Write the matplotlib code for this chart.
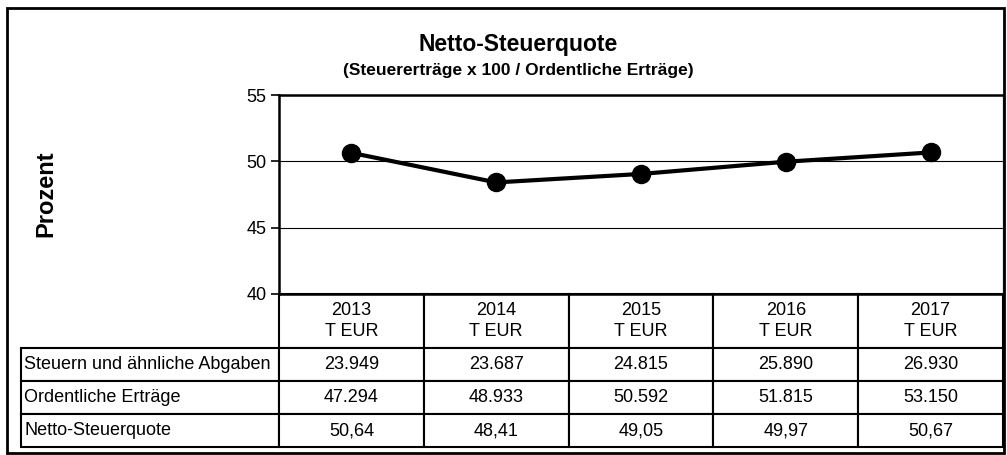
import numpy as np
import matplotlib.pyplot as plt
from matplotlib.patches import Rectangle

# Daten
jahre = ['2013', '2014', '2015', '2016', '2017']
steuerquote = [50.64, 48.41, 49.05, 49.97, 50.67]
zeilen = ['Steuern und ähnliche Abgaben', 'Ordentliche Erträge', 'Netto-Steuerquote']
steuern = ['23.949', '23.687', '24.815', '25.890', '26.930']
ertraege = ['47.294', '48.933', '50.592', '51.815', '53.150']
quote_text = ['50,64', '48,41', '49,05', '49,97', '50,67']
y_ticks = [40, 45, 50, 55]

plt.rcParams['font.family'] = ['Liberation Sans', 'DejaVu Sans']

W, H = 1007, 455
fig = plt.figure(figsize=(W / 100, H / 100), dpi=100)

# Plotbereich (Pixel -> Figure-Koordinaten)
links, rechts, oben, unten = 279, 1003, 95, 294
ax = fig.add_axes([links / W, 1 - unten / H, (rechts - links) / W, (unten - oben) / H])

x = np.arange(len(jahre))
ax.plot(x, steuerquote, color='black', lw=3, marker='o', ms=13, zorder=3, clip_on=False)

ax.set_xlim(-0.5, len(jahre) - 0.5)
ax.set_ylim(y_ticks[0], y_ticks[-1])
ax.set_yticks(y_ticks)
ax.set_xticks([])
ax.yaxis.grid(True, color='black', lw=0.8)
ax.set_axisbelow(True)
ax.tick_params(axis='y', direction='out', length=6, width=1.2, labelsize=13, pad=3)

for s in ['left', 'top', 'bottom']:
    ax.spines[s].set_linewidth(1.8)
ax.spines['right'].set_color('#808080')
ax.spines['right'].set_linewidth(1.0)

# Datentabelle unter dem Diagramm
zellen = [[''] + [j + '\nT EUR' for j in jahre]]
for name, werte in zip(zeilen, [steuern, ertraege, quote_text]):
    zellen.append([name] + werte)

tab_links, tab_unten = 21, 447
breite_ax = rechts - links
hoehe_ax = unten - oben
spalte = breite_ax / len(jahre)
tab = ax.table(cellText=zellen, cellLoc='center',
               colWidths=[links - tab_links] + [spalte] * len(jahre),
               bbox=[(tab_links - links) / breite_ax, (unten - tab_unten) / hoehe_ax,
                     (rechts - tab_links) / breite_ax, (tab_unten - unten) / hoehe_ax])
tab.auto_set_font_size(False)
tab.set_fontsize(13)
for (r, c), cell in tab.get_celld().items():
    cell.set_linewidth(1.5)
    cell.set_height(54 if r == 0 else 33)
    cell.get_text().set_linespacing(1.35)
    if c == 0:
        cell.get_text().set_ha('left')
        cell.PAD = 0.012
tab[0, 0].visible_edges = ''

# Titel und Achsenbeschriftung
fig.text(518 / W, 1 - 45 / H, 'Netto-Steuerquote', ha='center', va='center',
         fontsize=16.5, fontweight='bold')
fig.text(518 / W, 1 - 71 / H, '(Steuererträge x 100 / Ordentliche Erträge)', ha='center',
         va='center', fontsize=12.5, fontweight='bold')
fig.text(46 / W, 1 - 194 / H, 'Prozent', rotation=90, ha='center', va='center',
         fontsize=17, fontweight='bold')

# Rahmen
fig.patches.append(Rectangle((7 / W, 2 / H), 997 / W, 445 / H, transform=fig.transFigure,
                             fill=False, lw=2, color='black'))

plt.savefig('out.png', dpi=100)
plt.close()
